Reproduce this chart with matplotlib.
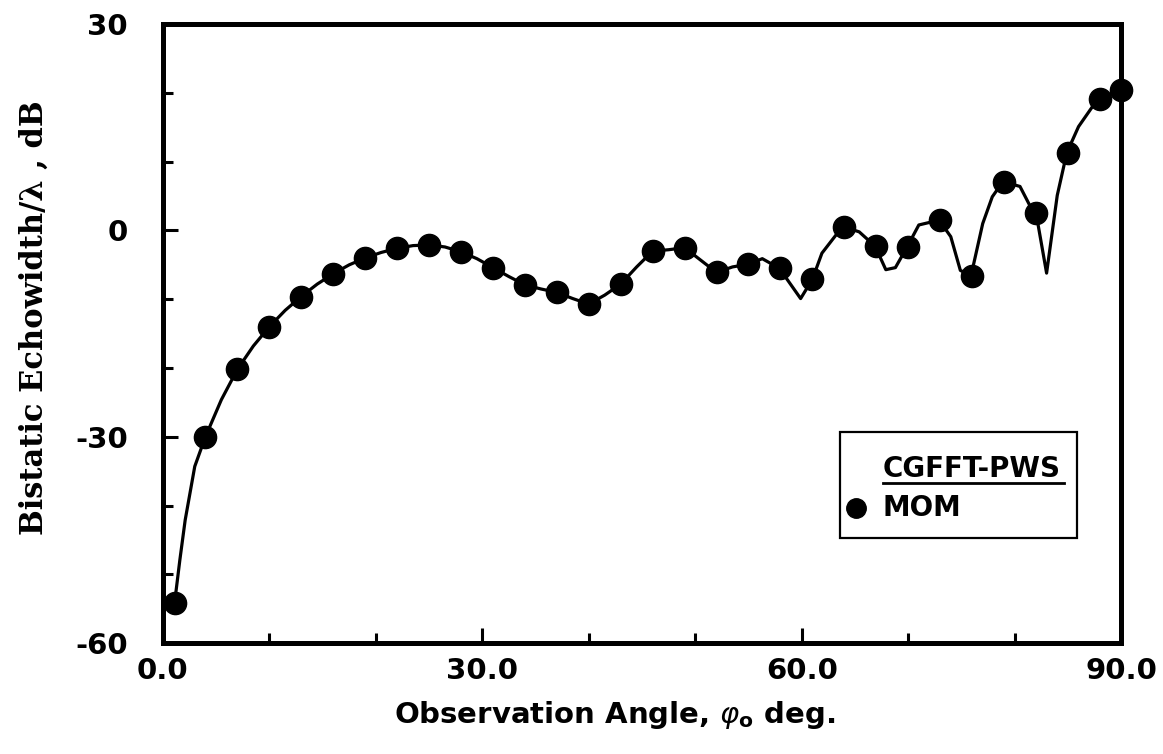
import numpy as np
import matplotlib
matplotlib.use("Agg")
import matplotlib.pyplot as plt
from matplotlib.patches import Rectangle
from matplotlib.ticker import MultipleLocator

plt.rcParams["axes.unicode_minus"] = False

# CGFFT-PWS solution (continuous curve)
pws_angle = [1.1, 1.6, 2.1, 3.0, 4.0, 5.5, 7.0, 8.5, 10.0, 11.5, 13.0, 14.5, 16.0,
             17.5, 19.0, 20.5, 22.0, 23.5, 25.0, 26.5, 28.0, 29.5, 31.0, 32.5, 34.0,
             35.5, 37.0, 38.5, 40.0, 41.5, 43.0, 44.5, 46.0, 47.5, 49.0, 50.5, 52.0,
             53.5, 55.0, 56.3, 57.9, 59.9, 61.0, 61.9, 63.2, 64.0, 65.4, 66.9, 67.9,
             68.8, 69.9, 71.0, 72.9, 74.0, 74.9, 75.9, 77.0, 77.9, 78.9, 80.5, 81.4,
             82.0, 83.0, 84.0, 84.9, 86.0, 87.8, 90.0]
pws_db = [-54.2, -47.9, -42.1, -34.3, -30.0, -24.6, -20.2, -16.8, -14.0, -11.6, -9.6,
          -7.8, -6.3, -5.0, -4.0, -3.2, -2.6, -2.2, -2.1, -2.4, -3.1, -4.1, -5.4, -6.7,
          -7.9, -8.5, -9.0, -9.9, -10.7, -9.4, -7.8, -5.3, -3.0, -2.8, -2.5, -4.3, -6.1,
          -5.3, -4.9, -4.1, -5.5, -9.9, -7.1, -3.3, -0.7, 0.5, -0.2, -2.3, -5.7, -5.4,
          -2.4, 0.8, 1.5, -0.9, -5.8, -6.6, 1.0, 4.9, 7.1, 6.4, 3.7, 2.6, -6.2, 5.1,
          11.3, 15.1, 19.1, 20.4]

# MOM reference points
mom_angle = [1.1, 4, 7, 10, 13, 16, 19, 22, 25, 28, 31, 34, 37, 40, 43, 46, 49, 52,
             55, 58, 61, 64, 67, 70, 73, 76, 79, 82, 85, 88, 90]
mom_db = [-54.2, -30.0, -20.2, -14.0, -9.6, -6.3, -4.0, -2.6, -2.1, -3.1, -5.4, -7.9,
          -9.0, -10.7, -7.8, -3.0, -2.5, -6.1, -4.9, -5.5, -7.1, 0.5, -2.3, -2.4, 1.5,
          -6.6, 7.0, 2.6, 11.3, 19.1, 20.4]

x_ticks = [0, 30, 60, 90]
x_ticklabels = ["0.0", "30.0", "60.0", "90.0"]
y_ticks = [-60, -30, 0, 30]

fig = plt.figure(figsize=(11.63, 7.54), dpi=100)
ax = fig.add_axes([0.140, 0.147, 0.824, 0.821])

ax.plot(pws_angle, pws_db, color="black", lw=2.3, solid_joinstyle="round")
ax.plot(mom_angle, mom_db, "o", color="black", ms=16, clip_on=False, zorder=5)

ax.set_xlim(0, 90)
ax.set_ylim(-60, 30)
ax.set_xticks(x_ticks)
ax.set_xticklabels(x_ticklabels)
ax.set_yticks(y_ticks)
ax.xaxis.set_minor_locator(MultipleLocator(10))
ax.yaxis.set_minor_locator(MultipleLocator(10))
ax.tick_params(which="both", direction="in", top=False, right=False, width=2.2,
               labelsize=21)
ax.tick_params(which="major", length=11)
ax.tick_params(which="minor", length=7)
ax.tick_params(axis="y", which="major", pad=25)
ax.tick_params(axis="x", which="major", pad=10)
for lab in ax.get_xticklabels() + ax.get_yticklabels():
    lab.set_fontweight("bold")
for sp in ax.spines.values():
    sp.set_linewidth(3.6)

ax.set_xlabel(r"Observation Angle, $\varphi_{\mathbf{o}}$ deg.", fontsize=21,
              fontweight="bold")
ax.xaxis.set_label_coords(0.471, -0.091)
ax.set_ylabel("Bistatic Echowidth/λ , dB", fontsize=22, fontweight="bold",
              family="DejaVu Serif")
ax.yaxis.set_label_coords(-0.118, 0.525)

# legend box drawn by hand: underlined label for the curve, dot for MOM
ax.add_patch(Rectangle((0.707, 0.170), 0.247, 0.171, transform=ax.transAxes,
                       fill=False, lw=1.6, ec="black", zorder=6))
ax.text(0.751, 0.282, "CGFFT-PWS", transform=ax.transAxes, fontsize=20,
        fontweight="bold", ha="left", va="center", zorder=7)
ax.plot([0.752, 0.940], [0.258, 0.258], transform=ax.transAxes, color="black",
        lw=2.0, zorder=7)
ax.plot([0.723], [0.218], "o", transform=ax.transAxes, color="black", ms=14,
        zorder=7)
ax.text(0.751, 0.218, "MOM", transform=ax.transAxes, fontsize=20,
        fontweight="bold", ha="left", va="center", zorder=7)

fig.savefig("out.png", dpi=100)
